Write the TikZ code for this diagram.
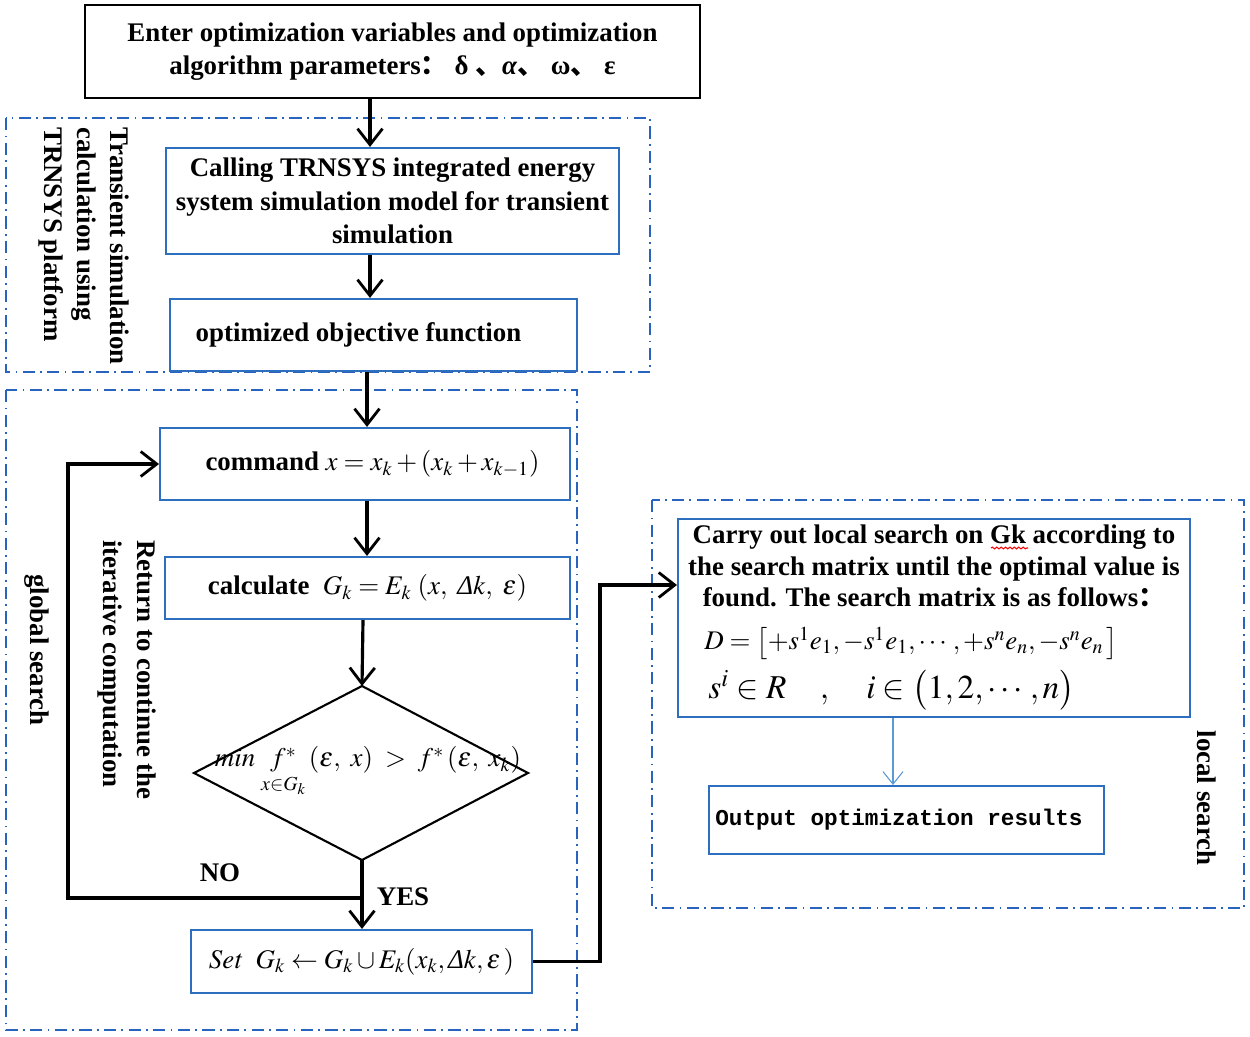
\documentclass[tikz,border=0pt]{standalone}
\usepackage{amsmath}
\usepackage{mathptmx}
\usepackage[no-math]{fontspec}
\setmainfont{Liberation Serif}
\setmonofont{Liberation Mono}
\newfontfamily\cjk{Noto Sans CJK SC}
\usetikzlibrary{arrows.meta,decorations.pathmorphing,calc}
\definecolor{boxblue}{RGB}{46,110,190}
\definecolor{grpblue}{RGB}{40,100,190}
\definecolor{thinblue}{RGB}{91,155,213}
\newcommand{\ita}[1]{\text{\mdseries\itshape #1}}
\tikzset{
  txt/.style={font=\fontsize{15.3}{19}\selectfont\bfseries},
  bluebox/.style={draw=boxblue, line width=1.2pt, inner sep=2pt, align=center, txt},
  blackbox/.style={draw=black, line width=1.6pt, inner sep=2pt, align=center, txt},
  grp/.style={draw=grpblue, line width=0.9pt, dash pattern=on 7pt off 3pt on 1pt off 3pt},
  arr/.style={-{Straight Barb[length=3.2mm,width=5mm,line width=1.6pt]}, line width=1.8pt},
  thinarr/.style={-{Straight Barb[length=2.5mm,width=4mm,line width=0.6pt]}, line width=0.8pt, draw=thinblue},
  vtext/.style={rotate=-90, align=left, txt},
  lbl/.style={txt}
}
\begin{document}
\begin{tikzpicture}[x=0.02cm,y=-0.02cm]
\fill[white] (0,0) rectangle (1250,1037);
\useasboundingbox (0,0) rectangle (1250,1037);

% group frames
\draw[grp] (6,118) rectangle (650,372);
\draw[grp] (6,390) rectangle (577,1030);
\draw[grp] (652,500) rectangle (1244,908);

% nodes
\node[blackbox, minimum width=12.3cm, minimum height=1.86cm] (top) at (392.5,51.5)
  {Enter optimization variables and optimization\\algorithm parameters{\cjk ：}~δ~{\cjk 、}\textit{α}{\cjk 、}~ω{\cjk 、}~ε};
\node[bluebox, minimum width=9.06cm, minimum height=2.12cm] (call) at (392.5,201)
  {Calling TRNSYS integrated energy\\system simulation model for transient\\simulation};
\node[bluebox, minimum width=8.14cm, minimum height=1.44cm] (opt) at (373.5,335)
  {optimized objective function\hspace*{0.6cm}};
\node[bluebox, minimum width=8.2cm, minimum height=1.44cm] (cmd) at (365,464)
  {\hspace*{0.3cm}command $x=x_k+(x_k+x_{k-1})$};
\node[bluebox, minimum width=8.1cm, minimum height=1.24cm] (calc) at (367.5,588)
  {calculate ~$G_k=E_k\;(x,\ \ita{Δ}k,\ \varepsilon)$};

\coordinate (dt) at (362,686);
\coordinate (db) at (362,860);
\coordinate (dl) at (194,773);
\coordinate (dr) at (528,773);
\draw[line width=1.2pt] (dt) -- (dr) -- (db) -- (dl) -- cycle;
\node[txt, inner sep=0pt] (cond) at (368,772)
  {$\mathit{min}\;\underset{x\in G_k}{f^{*}}\,(\varepsilon,\ x)\;>\;f^{*}\,(\varepsilon,\ x_k)$};

\node[bluebox, minimum width=6.82cm, minimum height=1.26cm] (set) at (361.5,961.5)
  {$\mathit{Set}\ \ G_k\leftarrow G_k\cup E_k(x_k,\ita{Δ}k,\varepsilon\,)$};

\node[bluebox, minimum width=10.24cm, minimum height=3.96cm] (carry) at (934,618) {};
\node[font=\fontsize{15.3}{18}\selectfont\bfseries, align=center, inner sep=0pt] (carryt) at (934,566)
  {Carry out local search on Gk according to\\the search matrix until the optimal value is\\found. The search matrix is as follows{\cjk ：}};
\node[txt, anchor=west, inner sep=0pt] (dmat) at (704,643)
  {$D=\bigl[+s^1e_1,-s^1e_1,\cdots,+s^ne_n,-s^ne_n\,\bigr]$};
\node[font=\fontsize{19}{22}\selectfont, anchor=west, inner sep=0pt] (sdef) at (708,690)
  {$s^i\in R\quad,\quad i\in\bigl(1,2,\cdots,n\bigr)$};
\draw[red, line width=0.6pt, decorate, decoration={snake, amplitude=0.5pt, segment length=2.5pt}]
  (991,548) -- (1028,548);

\node[draw=boxblue, line width=1.2pt, minimum width=7.9cm, minimum height=1.36cm,
  font=\fontsize{12.9}{15}\selectfont\ttfamily\bfseries] (out) at (906.5,820)
  {Output optimization results\hspace*{0.3cm}};

% vertical labels
\node[vtext] (v1) at (84,246) {Transient simulation\\calculation using\\TRNSYS platform};
\node[vtext] (v2) at (127,670) {Return to continue the\\iterative computation};
\node[vtext] (v3) at (37,650) {global search};
\node[vtext] (v4) at (1207,798) {local search};

\node[lbl] (no) at (220,873) {NO};
\node[lbl] (yes) at (403,897) {YES};

% connectors
\coordinate (x370) at (370,0);
\coordinate (x367) at (367,0);
\coordinate (x363) at (363,0);
\coordinate (lx) at (68,0);
\coordinate (nojoin) at (362,898);
\coordinate (cj) at (600,585);
\coordinate (bx) at (893,0);

\draw[arr] (top.south -| x370) -- (call.north -| x370);
\draw[arr] (call.south -| x370) -- (opt.north -| x370);
\draw[arr] (opt.south -| x367) -- (cmd.north -| x367);
\draw[arr] (cmd.south -| x367) -- (calc.north -| x367);
\draw[arr] (calc.south -| x363) -- (dt);
\draw[arr] (db) -- (set.north -| db);
\draw[arr] (nojoin) -- (nojoin -| lx) |- (cmd.west);
\draw[arr] (set.east) -| (cj) -- (carry.west |- cj);
\draw[thinarr] (carry.south -| bx) -- (out.north -| bx);
\end{tikzpicture}
\end{document}
